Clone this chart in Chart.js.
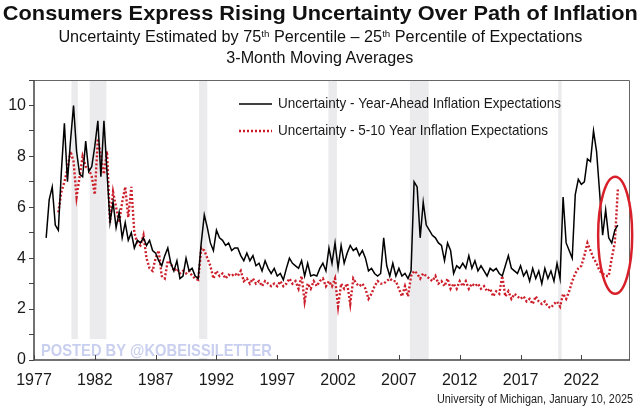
<!DOCTYPE html>
<html>
<head>
<meta charset="utf-8">
<script src="https://cdn.jsdelivr.net/npm/chart.js@4.4.1/dist/chart.umd.min.js"></script>
<style>
  body { margin: 0; background: #fff; }
  #wrap { position: relative; width: 640px; height: 409px; overflow: hidden; }
  #wrap canvas { position: absolute; left: 0; top: 0; }
  .hd { position: absolute; left: 0; width: 640px; text-align: center; color: #111;
        font-family: 'Liberation Sans', Arial, sans-serif; white-space: nowrap; z-index: 2; }
  .hd span { display: inline-block; transform-origin: center; }
  sup { font-size: 60%; vertical-align: 0; position: relative; top: -0.55em; }
</style>
</head>
<body>
<div id="wrap">
  <div class="hd" style="top:1px;font-size:21px;font-weight:bold;line-height:24px"><span data-w="635">Consumers Express Rising Uncertainty Over Path of Inflation</span></div>
  <div class="hd" style="top:27px;font-size:16px;line-height:19px"><span data-w="524">Uncertainty Estimated by 75<sup>th</sup> Percentile – 25<sup>th</sup> Percentile of Expectations</span></div>
  <div class="hd" style="top:48px;font-size:16px;line-height:19px"><span data-w="187">3-Month Moving Averages</span></div>
  <canvas id="chart1" width="640" height="409"></canvas>
</div>
<script>
// quarterly readings, first point is Q1 1978
var startYear = 1978;
var step = 0.25;

var yearAhead = [
  4.8, 6.3, 6.8, 5.3,   5.1, 7.4, 9.3, 7.0,   8.6, 10.0, 8.2, 7.3,  7.2, 8.6, 7.4, 7.6,
  8.4, 9.4, 7.2, 9.4,   7.4, 5.4, 6.2, 5.2,   5.8, 4.8, 5.4, 4.7,   5.0, 4.4, 4.7, 4.6,
  4.8, 4.5, 4.7, 4.3,   4.2, 3.9, 3.7, 4.1,   4.4, 3.8, 3.5, 3.9,   3.2, 3.3, 4.0, 3.5,
  3.6, 3.3, 3.2, 4.6,   5.7, 5.2, 4.6, 4.3,   5.1, 4.8, 4.7, 4.5,   4.6, 4.3, 4.4, 4.4,
  4.1, 3.9, 4.2, 3.9,   4.1, 3.7, 3.8, 3.5,   3.9, 3.6, 3.4, 3.6,   3.3, 3.4, 3.15, 3.6,
  4.0, 3.8, 3.7, 3.6,   3.9, 3.3, 3.8, 3.3,   3.35, 3.3, 3.6, 3.8,  3.5, 4.4, 3.8, 4.6,
  3.6, 4.5, 3.8, 4.2,   4.5, 4.3, 4.4, 4.1,   4.3, 4.0, 3.5, 3.6,   3.4, 3.3, 3.4, 4.8,
  3.7, 3.3, 3.8, 3.3,   3.6, 3.3, 3.4, 3.2,   3.5, 7.0, 6.8, 4.8,   6.2, 5.3, 5.1, 4.9,
  4.8, 4.6, 4.5, 3.9,   4.6, 4.3, 3.4, 3.7,   3.6, 3.8, 3.6, 4.1,   3.6, 3.9, 3.5, 3.7,
  3.5, 3.3, 3.6, 3.5,   3.6, 3.4, 3.3, 3.7,   4.1, 3.6, 3.5, 3.4,   3.7, 3.3, 3.5, 3.1,
  3.6, 3.2, 3.5, 3.0,   3.6, 3.2, 3.5, 3.1,   3.8, 3.2, 6.4, 4.6,   4.3, 4.0, 6.5, 7.1,
  6.9, 7.0, 7.9, 7.8,   9.0, 8.2, 6.6, 4.9,   5.9, 4.8, 4.6, 5.1,   5.3
];

var longRun = [
  null, null, null, null, 5.8, 6.6, 7.0, 7.5,   8.2, 7.8, 6.4, 7.2,   8.0, 7.6, 7.5, 7.2,
  6.5, 8.7, 8.0, 7.3,   8.2, 5.4, 6.6, 6.0,   5.4, 6.2, 6.8, 5.6,   6.8, 5.0, 4.6, 4.5,
  4.9, 4.0, 3.6, 3.5,   4.0, 4.3, 3.3, 3.2,   3.9, 3.8, 3.5, 3.6,   3.4, 3.5, 3.4, 3.5,
  3.3, 3.2, 3.15, 4.4,  4.3, 4.0, 3.7, 3.2,   3.5, 3.3, 3.4, 3.2,   3.35, 3.3, 3.4, 3.3,
  3.5, 3.1, 3.2, 3.0,   3.2, 3.0, 3.1, 2.9,   3.1, 3.0, 2.9, 3.0,   2.9, 3.1, 2.9, 3.0,
  3.2, 3.0, 3.1, 2.8,   3.3, 2.3, 3.0, 2.8,   3.1, 2.9, 3.1, 3.2,   2.9, 3.1, 2.9, 3.2,
  2.1, 3.0, 2.8, 3.0,   2.2, 3.2, 3.0, 2.9,   3.0, 2.8, 2.4, 2.6,   2.9, 3.1, 3.0, 3.0,
  3.1, 3.2, 3.1, 3.1,   2.8, 2.5, 2.9, 2.5,   3.3, 3.5, 3.4, 3.2,   3.4, 3.3, 3.2, 3.1,
  3.3, 3.0, 3.1, 2.9,   3.2, 2.8, 3.0, 2.8,   3.1, 2.9, 3.1, 2.8,   3.0, 2.9, 3.0, 2.8,
  2.9, 2.7, 2.8, 2.5,   2.7, 2.6, 3.3, 2.5,   2.7, 2.4, 2.6, 2.5,   2.4, 2.5, 2.3, 2.4,
  2.2, 2.5, 2.3, 2.2,   2.3, 2.1, 2.05, 2.2,  2.3, 2.1, 2.6, 2.4,   2.7, 3.1, 3.4, 3.6,
  3.7, 4.1, 4.6, 4.3,   4.0, 3.8, 3.5, 3.4,   3.3, 3.3, 4.0, 4.6,   6.7
];

var tickYears = [1977, 1982, 1987, 1992, 1997, 2002, 2007, 2012, 2017, 2022];
var recessions = [[1980.08, 1980.6], [1981.58, 1982.95], [1990.57, 1991.25], [2001.2, 2001.9], [2007.9, 2009.45], [2020.1, 2020.38]];
var seriesNames = ['Uncertainty - Year-Ahead Inflation Expectations', 'Uncertainty - 5-10 Year Inflation Expectations'];

function toPoints(arr) {
  return arr.map(function (v, i) { return { x: startYear + i * step, y: v }; });
}

// fit heading lines to the widths seen in the picture
document.querySelectorAll('.hd span').forEach(function (s) {
  var w = s.getBoundingClientRect().width;
  s.style.transform = 'scaleX(' + (parseFloat(s.dataset.w) / w) + ')';
});

var red = '#cc1f2b';
var font = "'Liberation Sans', Arial, sans-serif";

var extras = {
  id: 'extras',
  beforeDatasetsDraw: function (chart) {
    var ctx = chart.ctx, a = chart.chartArea, x = chart.scales.x;
    ctx.save();
    ctx.fillStyle = '#ebebed';
    recessions.forEach(function (r) {
      var x0 = x.getPixelForValue(r[0]), x1 = x.getPixelForValue(r[1]);
      ctx.fillRect(x0, a.top, x1 - x0, a.bottom - a.top);
    });
    // watermark
    ctx.fillStyle = 'rgba(255,255,255,0.95)';
    ctx.fillRect(38, 339, 238, 19);
    ctx.fillStyle = '#c9cfee';
    ctx.font = 'bold 17px ' + font;
    ctx.textBaseline = 'alphabetic';
    ctx.fillText('POSTED BY @KOBEISSILETTER', 41, 356, 231);
    ctx.restore();
  },
  afterDraw: function (chart) {
    var ctx = chart.ctx, a = chart.chartArea, x = chart.scales.x, y = chart.scales.y;
    ctx.save();
    // frame
    ctx.strokeStyle = '#666';
    ctx.lineWidth = 1;
    ctx.beginPath();
    ctx.moveTo(a.left, a.top + 0.5); ctx.lineTo(a.right - 0.5, a.top + 0.5); ctx.lineTo(a.right - 0.5, a.bottom);
    ctx.stroke();
    ctx.strokeStyle = '#444';
    ctx.lineWidth = 1.5;
    ctx.beginPath();
    ctx.moveTo(a.left, a.top); ctx.lineTo(a.left, a.bottom); ctx.lineTo(a.right, a.bottom);
    ctx.stroke();
    // inward x ticks
    ctx.lineWidth = 1;
    tickYears.forEach(function (t) {
      var px = Math.round(x.getPixelForValue(t)) + 0.5;
      ctx.beginPath(); ctx.moveTo(px, a.bottom); ctx.lineTo(px, a.bottom - 5); ctx.stroke();
    });
    // legend
    ctx.font = '15px ' + font;
    ctx.fillStyle = '#1a1a1a';
    ctx.textBaseline = 'middle';
    ctx.strokeStyle = '#000';
    ctx.lineWidth = 1.5;
    ctx.beginPath(); ctx.moveTo(239, 104); ctx.lineTo(272, 104); ctx.stroke();
    ctx.fillText(seriesNames[0], 278, 104, 283);
    ctx.strokeStyle = red;
    ctx.lineWidth = 2.5;
    ctx.setLineDash([2, 2]);
    ctx.beginPath(); ctx.moveTo(239, 131); ctx.lineTo(272, 131); ctx.stroke();
    ctx.setLineDash([]);
    ctx.fillText(seriesNames[1], 278, 131, 270);
    // red ellipse on latest readings
    var cx = x.getPixelForValue(2024.78), cy = y.getPixelForValue(4.9);
    var rx = x.getPixelForValue(2026.18) - cx, ry = cy - y.getPixelForValue(7.2);
    ctx.strokeStyle = '#d8202a';
    ctx.lineWidth = 2.5;
    ctx.beginPath(); ctx.ellipse(cx, cy, rx, ry, 0, 0, Math.PI * 2); ctx.stroke();
    // source
    ctx.font = '12px ' + font;
    ctx.fillStyle = '#222';
    ctx.textAlign = 'right';
    ctx.textBaseline = 'alphabetic';
    ctx.fillText('University of Michigan, January 10, 2025', 633, 403, 196);
    ctx.restore();
  }
};

var ctx1 = document.getElementById('chart1');
var chart1 = new Chart(ctx1.getContext('2d'), {
  type: 'line',
  data: {
    datasets: [{
      label: seriesNames[0],
      data: toPoints(yearAhead),
      borderColor: '#000',
      borderWidth: 1.5,
      pointRadius: 0,
      tension: 0
    }, {
      label: seriesNames[1],
      data: toPoints(longRun),
      borderColor: red,
      borderWidth: 2.4,
      borderDash: [2, 2],
      pointRadius: 0,
      tension: 0,
      spanGaps: false
    }]
  },
  options: {
    responsive: false,
    animation: false,
    layout: { padding: { left: 0, right: 10, top: 80, bottom: 0 } },
    plugins: { legend: { display: false }, tooltip: { enabled: false } },
    scales: {
      x: {
        type: 'linear',
        min: 1977,
        max: 2026,
        afterBuildTicks: function (s) { s.ticks = tickYears.map(function (v) { return { value: v }; }); },
        afterFit: function (s) { s.height = 49; },
        grid: { display: false, drawTicks: false },
        border: { display: false },
        ticks: { color: '#1a1a1a', font: { family: font, size: 16 }, padding: 11, maxRotation: 0, autoSkip: false,
                 callback: function (v) { return String(v); } }
      },
      y: {
        min: 0,
        max: 11,
        afterFit: function (s) { s.width = 34; },
        grid: { drawOnChartArea: false, drawTicks: true, tickLength: 5, color: '#444' },
        border: { display: false },
        ticks: { stepSize: 1, color: '#1a1a1a', font: { family: font, size: 16 }, padding: 3,
                 callback: function (v) { return v % 2 === 0 ? v : ''; } }
      }
    }
  },
  plugins: [extras]
});
</script>
</body>
</html>
